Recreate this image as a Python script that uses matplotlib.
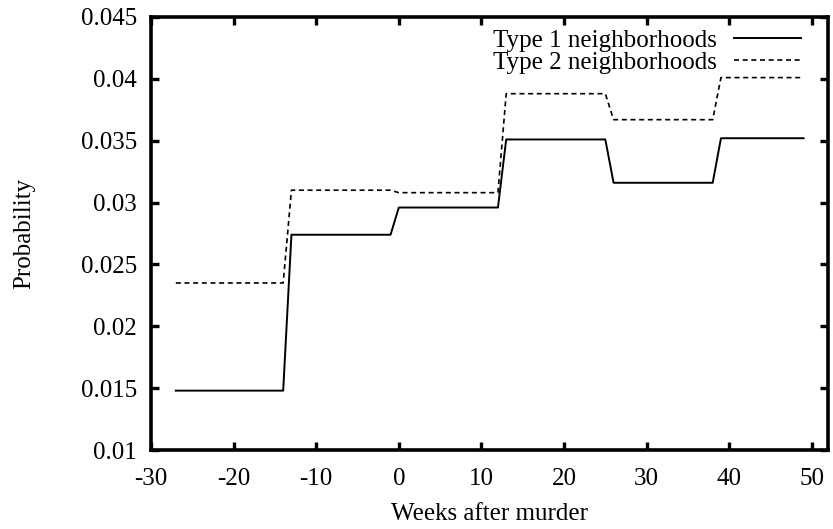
import matplotlib
matplotlib.use("Agg")
import matplotlib.pyplot as plt

plt.rcParams['font.family'] = ['Liberation Serif', 'DejaVu Serif']
plt.rcParams['axes.unicode_minus'] = False

# step breakpoints
type1_weeks = [-27, -14, -13, -1, 0, 12, 13, 25, 26, 38, 39, 49]
type1_prob = [0.0148, 0.0148, 0.0274, 0.0274, 0.0296, 0.0296,
              0.0351, 0.0351, 0.0316, 0.0316, 0.0352, 0.0352]

type2_weeks = [-27, -14, -13, -1, 0, 12, 13, 25, 26, 38, 39, 49]
type2_prob = [0.0235, 0.0235, 0.0310, 0.0310, 0.0308, 0.0308,
              0.0388, 0.0388, 0.0367, 0.0367, 0.0401, 0.0401]

x_ticks = [-30, -20, -10, 0, 10, 20, 30, 40, 50]
y_ticks = [0.01, 0.015, 0.02, 0.025, 0.03, 0.035, 0.04, 0.045]
y_tick_labels = ['0.01', '0.015', '0.02', '0.025', '0.03', '0.035', '0.04', '0.045']

fs = 18

fig = plt.figure(figsize=(8.33, 5.29), dpi=100)
ax = fig.add_axes([0.1813, 0.1493, 0.8131, 0.8186])

ax.plot(type1_weeks, type1_prob, color='black', lw=1.4, label='Type 1 neighborhoods')
ax.plot(type2_weeks, type2_prob, color='black', lw=1.2, dashes=(3, 2.2),
        label='Type 2 neighborhoods')

ax.set_xlim(-30, 52)
ax.set_ylim(0.01, 0.045)
ax.set_xticks(x_ticks)
ax.set_yticks(y_ticks)
ax.set_yticklabels(y_tick_labels)

for s in ax.spines.values():
    s.set_linewidth(2.6)
ax.tick_params(direction='in', length=6, width=2.4, top=True, right=True,
               labelsize=fs, pad=10)
ax.tick_params(axis='x', pad=13)

ax.set_xlabel('Weeks after murder', fontsize=fs, labelpad=9)
ax.set_ylabel('Probability', fontsize=fs, labelpad=33)

leg = ax.legend(loc='upper right', frameon=False, markerfirst=False,
                fontsize=fs, handlelength=2.7, handletextpad=0.7,
                labelspacing=0.0, borderaxespad=0.0,
                bbox_to_anchor=(0.975, 0.995))

fig.savefig('out.png', dpi=100)
